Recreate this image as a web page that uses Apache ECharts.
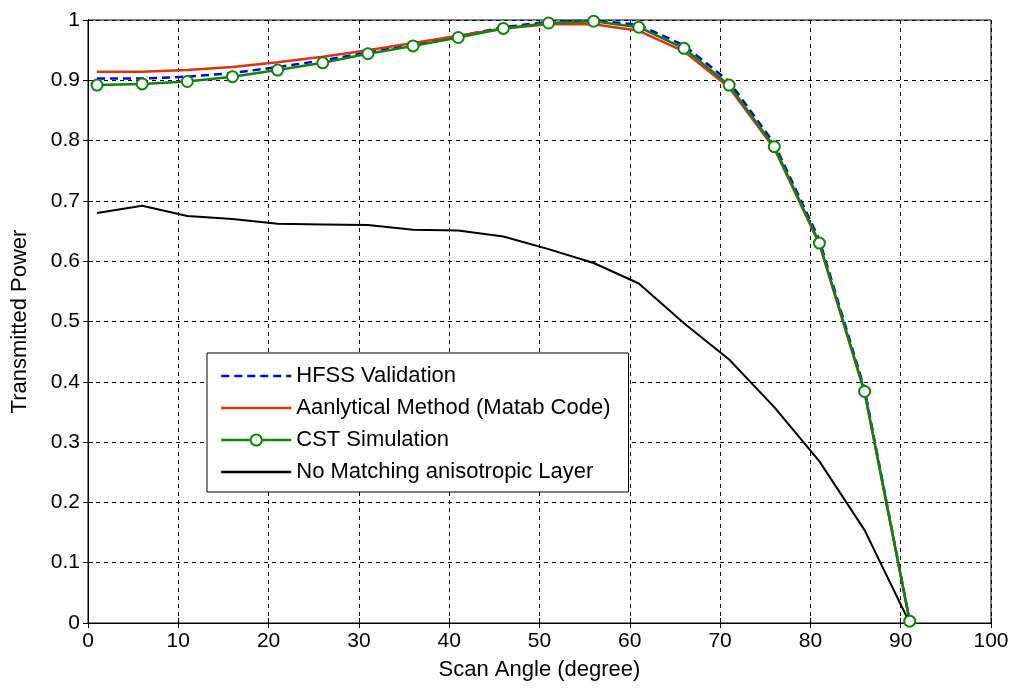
<!DOCTYPE html>
<html>
<head>
<meta charset="utf-8">
<script src="https://cdn.jsdelivr.net/npm/echarts@6/dist/echarts.min.js"></script>
<style>
  html, body { margin: 0; padding: 0; background: #fff; }
  #main { width: 1017px; height: 689px; }
</style>
</head>
<body>
<div id="main"></div>
<script>
// scan angles (degree)
const angles = [1, 6, 11, 16, 21, 26, 31, 36, 41, 46, 51, 56, 61, 66, 71, 76, 81, 86, 91];

const hfss = [0.903, 0.903, 0.906, 0.912, 0.922, 0.933, 0.946, 0.960, 0.973, 0.988, 0.997, 0.999, 0.992, 0.958, 0.898, 0.795, 0.635, 0.388, 0.003];
const analytical = [0.914, 0.914, 0.917, 0.922, 0.930, 0.939, 0.950, 0.962, 0.974, 0.986, 0.993, 0.993, 0.982, 0.948, 0.888, 0.787, 0.628, 0.382, 0.003];
const cst = [0.892, 0.894, 0.898, 0.906, 0.917, 0.929, 0.944, 0.957, 0.971, 0.986, 0.995, 0.998, 0.988, 0.953, 0.892, 0.790, 0.630, 0.384, 0.003];
const noMatching = [0.680, 0.692, 0.675, 0.670, 0.662, 0.661, 0.660, 0.652, 0.651, 0.641, 0.620, 0.597, 0.563, 0.497, 0.437, 0.358, 0.268, 0.154, 0.0];

const seriesNames = ['HFSS Validation', 'Aanlytical Method (Matab Code)', 'CST Simulation', 'No Matching anisotropic Layer'];

function pairs(vals) {
    return angles.map((a, i) => [a, vals[i]]);
}

const font = 'Liberation Sans, Arial, sans-serif';

var chartDom = document.getElementById('main');
var myChart = echarts.init(chartDom);
var option;

const tickStyle = { inside: true, length: 5, lineStyle: { color: '#000', width: 1 } };
const hideDot = { opacity: 0 };

option = {
    animation: false,
    backgroundColor: '#fff',
    grid: {
        left: 88, right: 26, top: 20, bottom: 66,
        show: true, borderColor: '#000', borderWidth: 1
    },
    legend: {
        orient: 'vertical',
        left: 207,
        top: 353,
        padding: [12, 18, 9, 13],
        itemWidth: 70,
        itemHeight: 14,
        itemGap: 10,
        backgroundColor: '#fff',
        borderColor: '#000',
        borderWidth: 1,
        borderRadius: 0,
        textStyle: { fontFamily: font, fontSize: 22, color: '#000' },
        data: [
            { name: seriesNames[0], itemStyle: hideDot, lineStyle: { width: 2.5, type: [8, 5] } },
            { name: seriesNames[1], itemStyle: hideDot, lineStyle: { width: 2.5 } },
            { name: seriesNames[2], lineStyle: { width: 2.5 } },
            { name: seriesNames[3], itemStyle: hideDot, lineStyle: { width: 2.5 } }
        ]
    },
    xAxis: [
        {
            type: 'value', min: 0, max: 100, interval: 10,
            name: 'Scan Angle (degree)', nameLocation: 'middle', nameGap: 36,
            nameTextStyle: { fontFamily: font, fontSize: 22, color: '#000' },
            axisLine: { lineStyle: { color: '#000' } },
            axisTick: tickStyle,
            axisLabel: { fontFamily: font, fontSize: 21, color: '#000', margin: 8 },
            splitLine: { show: true, lineStyle: { color: '#000', type: [4, 4], width: 1 } }
        },
        {
            type: 'value', min: 0, max: 100, interval: 10, position: 'top',
            axisLine: { lineStyle: { color: '#000' } },
            axisTick: tickStyle,
            axisLabel: { show: false },
            splitLine: { show: false }
        }
    ],
    yAxis: [
        {
            type: 'value', min: 0, max: 1, interval: 0.1,
            name: 'Transmitted Power', nameLocation: 'middle', nameGap: 57,
            nameTextStyle: { fontFamily: font, fontSize: 22, color: '#000' },
            axisLine: { show: true, lineStyle: { color: '#000' } },
            axisTick: tickStyle,
            axisLabel: {
                fontFamily: font, fontSize: 21, color: '#000', margin: 8,
                formatter: v => (v === 0 || v === 1) ? String(v) : v.toFixed(1)
            },
            splitLine: { show: true, lineStyle: { color: '#000', type: [4, 4], width: 1 } }
        },
        {
            type: 'value', min: 0, max: 1, interval: 0.1, position: 'right',
            axisLine: { show: true, lineStyle: { color: '#000' } },
            axisTick: tickStyle,
            axisLabel: { show: false },
            splitLine: { show: false }
        }
    ],
    series: [
        {
            name: seriesNames[0],
            type: 'line',
            data: pairs(hfss),
            showSymbol: false, symbol: 'none',
            lineStyle: { color: '#0000ff', width: 2.5, type: [8, 5] },
            itemStyle: { color: '#0000ff' }
        },
        {
            name: seriesNames[1],
            type: 'line',
            data: pairs(analytical),
            showSymbol: false, symbol: 'none',
            lineStyle: { color: '#dd3311', width: 2.5 },
            itemStyle: { color: '#dd3311' }
        },
        {
            name: seriesNames[2],
            type: 'line',
            data: pairs(cst),
            symbol: 'emptyCircle', symbolSize: 11,
            lineStyle: { color: '#0a870a', width: 2.5 },
            itemStyle: { color: '#0a870a', borderWidth: 2.5 }
        },
        {
            name: seriesNames[3],
            type: 'line',
            data: pairs(noMatching),
            showSymbol: false, symbol: 'none',
            lineStyle: { color: '#000', width: 2 },
            itemStyle: { color: '#000' }
        }
    ]
};
option && myChart.setOption(option);
</script>
</body>
</html>
